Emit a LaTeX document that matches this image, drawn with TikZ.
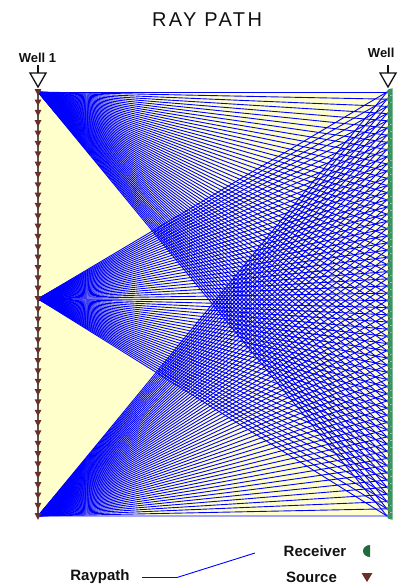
\documentclass[tikz,border=0pt]{standalone}
\usepackage{fontspec}
\setmainfont{Liberation Sans}
\usetikzlibrary{positioning}
\definecolor{ink}{HTML}{111111}
\definecolor{raybl}{HTML}{0000FF}
\definecolor{paper}{HTML}{FFFFCC}
\definecolor{srcbr}{HTML}{6B2F2A}
\definecolor{rcvgr}{HTML}{3A9460}
\definecolor{rcvdk}{HTML}{1F6B3A}
\definecolor{wellgr}{HTML}{555555}
\tikzset{
  raypath/.style={draw=raybl,line width=.9pt},
  wellline/.style={draw=wellgr,line width=1.6pt},
  wellmark/.style={draw=ink,line width=1.3pt,fill=white},
  srcmark/.style={fill=srcbr},
  rcvmark/.style={fill=rcvgr},
  lbl/.style={font=\bfseries\fontsize{13}{15}\selectfont,text=ink},
  leg/.style={font=\bfseries\fontsize{15}{17}\selectfont,text=ink},
  ttl/.style={font=\addfontfeatures{LetterSpace=12}\fontsize{20}{24}\selectfont,text=ink},
}

\begin{document}
\begin{tikzpicture}[x=1pt,y=1pt]
  \useasboundingbox (0,0) rectangle (401,-587);
  \node[ttl] (title) at (207,-20) {RAY PATH};
  % section between the wells
  \fill[paper] (38,-92) rectangle (387,-516);
  \foreach \i in {0,...,41}
    \coordinate (s\i) at (38,{-92-\i*10.34146});
  \foreach \j in {0,...,59}
    \coordinate (r\j) at (387,{-92-\j*7.18644});
  % rays from the three shots
  \foreach \s in {0,20,41} {
    \foreach \j in {0,...,59}
      \draw[raypath] (s\s) -- (r\j);
  }
  % wells
  \draw[wellline] (s0) -- (s41);
  \draw[wellline] ([xshift=2pt]r0) -- ([xshift=2pt]r59);
  \foreach \i in {0,...,41}
    \fill[srcmark,shift={(s\i)}] (-3.4,2.8) -- (3.4,2.8) -- (0,-3.8) -- cycle;
  \foreach \j in {0,...,59}
    \fill[rcvmark,shift={(r\j)}] (5.5,3.6) arc[start angle=90,end angle=270,x radius=6,y radius=3.6] -- cycle;
  % well heads
  \coordinate (w1) at (38,-73);
  \coordinate (w2) at (388,-73);
  \foreach \w in {w1,w2} {
    \draw[draw=ink,line width=1.3pt] (\w) -- ++(0,8);
    \draw[wellmark] ([xshift=-8pt]\w) -- ([xshift=8pt]\w) -- ([yshift=-14pt]\w) -- cycle;
  }
  \node[lbl] (well1) at (37.5,-58) {Well 1};
  \node[lbl,anchor=east] (well2) at (398,-53) {Well};
  % legend
  \node[leg] (lrcv) at (315,-551) {Receiver};
  \node[leg] (lsrc) at (311.5,-577) {Source};
  \node[leg] (lray) at (100,-577) {Raypath};
  \coordinate (k1) at (142,-577.5);
  \coordinate (k2) at (177,-577.5);
  \coordinate (k3) at (255,-553);
  \draw[raypath] (k1) -- (k2) -- (k3);
  \coordinate (mrcv) at (366,-551);
  \fill[rcvdk,shift={(mrcv)}] (4,6) arc[start angle=90,end angle=270,x radius=7,y radius=6] -- cycle;
  \coordinate (msrc) at (367,-577);
  \fill[srcmark,shift={(msrc)}] (-5.5,4) -- (5.5,4) -- (0,-5) -- cycle;
\end{tikzpicture}
\end{document}
